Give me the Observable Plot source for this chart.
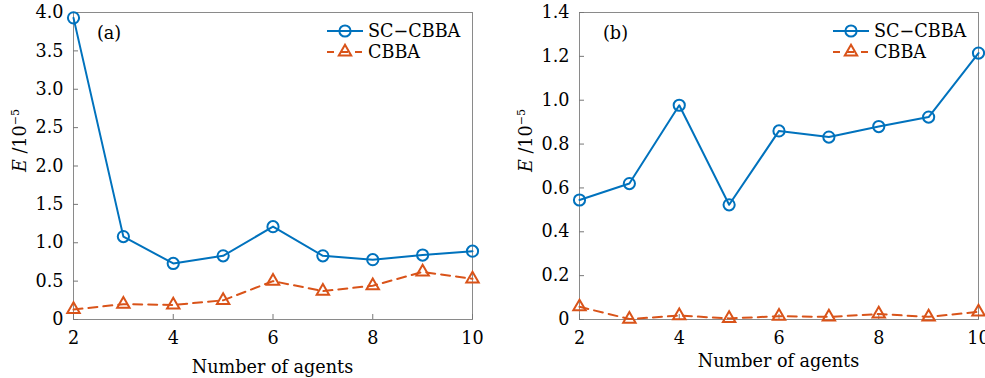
<!DOCTYPE html>
<html>
<head>
<meta charset="utf-8">
<script src="https://cdn.jsdelivr.net/npm/d3@7"></script>
<script src="https://cdn.jsdelivr.net/npm/@observablehq/plot@0.6"></script>
<style>
  html, body { margin: 0; padding: 0; background: #fff; }
  #wrap { position: relative; width: 985px; height: 378px; overflow: hidden; }
  #wrap svg { position: absolute; top: 0; overflow: visible; }
</style>
</head>
<body>
<div id="wrap"></div>
<script>
const agents = [2, 3, 4, 5, 6, 7, 8, 9, 10];
const seriesNames = ["SC\u2212CBBA", "CBBA"];
// Panel (a)
const aScCbba = [3.93, 1.08, 0.73, 0.83, 1.21, 0.83, 0.78, 0.84, 0.89];
const aCbba   = [0.13, 0.20, 0.19, 0.25, 0.50, 0.37, 0.44, 0.62, 0.53];
// Panel (b)
const bScCbba = [0.545, 0.62, 0.977, 0.523, 0.86, 0.832, 0.88, 0.923, 1.215];
const bCbba   = [0.058, 0.002, 0.018, 0.005, 0.015, 0.012, 0.025, 0.012, 0.035];
const xTicks = [2, 4, 6, 8, 10];
const aYTicks = [0, 0.5, 1.0, 1.5, 2.0, 2.5, 3.0, 3.5, 4.0];
const bYTicks = [0, 0.2, 0.4, 0.6, 0.8, 1.0, 1.2, 1.4];
const panelLabels = ["(a)", "(b)"];
const xLabel = "Number of agents";

const BLUE = "#0072BD", RED = "#D95319";
const FONT = "DejaVu Serif, Liberation Serif, serif";
const FS = 17.6;

function makePanel({sc, cb, yTicks, yMax, width, marginLeft, marginRight, left, label, xLabelY}) {
  const marginTop = 12, marginBottom = 59, height = 378;
  const plotW = width - marginLeft - marginRight;
  const plotH = height - marginTop - marginBottom;
  const scData = agents.map((a, i) => ({x: a, y: sc[i]}));
  const cbData = agents.map((a, i) => ({x: a, y: cb[i]}));
  const fmt = d => d === 0 ? "0" : d.toFixed(1);
  const chart = Plot.plot({
    width, height, marginLeft, marginRight, marginTop, marginBottom,
    style: {fontFamily: FONT, fontSize: FS + "px", color: "#000", background: "transparent", overflow: "visible"},
    x: {domain: [2, 10], ticks: xTicks},
    y: {domain: [0, yMax], ticks: yTicks},
    marks: [
      Plot.frame({stroke: "#8a8a8a", strokeWidth: 1}),
      Plot.tickX(xTicks, {x: d => d, insetTop: plotH - 5, stroke: "#777"}),
      Plot.tickY(yTicks, {y: d => d, insetRight: plotW - 5, stroke: "#777"}),
      Plot.axisX(xTicks, {tickSize: 0, tickPadding: 12, tickFormat: d => String(d), label: null, fontSize: FS}),
      Plot.axisY(yTicks, {tickSize: 0, tickPadding: 10, tickFormat: fmt, label: null, fontSize: FS}),
      Plot.line(cbData, {x: "x", y: "y", stroke: RED, strokeWidth: 2, strokeDasharray: "9,6"}),
      Plot.dot(cbData, {x: "x", y: "y", symbol: "triangle", r: 4.6, stroke: RED, strokeWidth: 2, fill: "none"}),
      Plot.line(scData, {x: "x", y: "y", stroke: BLUE, strokeWidth: 2}),
      Plot.dot(scData, {x: "x", y: "y", symbol: "circle", r: 5.6, stroke: BLUE, strokeWidth: 2, fill: "none"})
    ]
  });
  chart.style.left = left + "px";
  const svg = d3.select(chart);
  // panel label
  svg.append("text").attr("x", marginLeft + 24).attr("y", 39).attr("text-anchor", "start")
    .attr("font-family", FONT).attr("font-size", FS).attr("fill", "#000").text(label);
  // x label
  svg.append("text").attr("x", marginLeft + plotW / 2).attr("y", xLabelY)
    .attr("text-anchor", "middle").attr("font-family", FONT).attr("font-size", FS).attr("fill", "#000").text(xLabel);
  // y label
  const yl = svg.append("text")
    .attr("transform", `translate(${marginLeft - 47},172) rotate(-90)`).attr("text-anchor", "start")
    .attr("font-family", FONT).attr("font-size", FS).attr("fill", "#000");
  yl.append("tspan").attr("font-style", "italic").text("E");
  yl.append("tspan").text(" /10");
  yl.append("tspan").attr("font-size", 11).attr("dy", -7).text("\u22125");
  // legend
  const lx0 = width - marginRight - 145, lx1 = lx0 + 36, tx = lx1 + 5;
  const g = svg.append("g");
  const rows = [
    {name: seriesNames[0], color: BLUE, dash: null, sym: d3.symbolCircle, r: 5.6, y: 31},
    {name: seriesNames[1], color: RED, dash: "7,7", sym: d3.symbolTriangle, r: 4.6, y: 52}
  ];
  for (const r of rows) {
    g.append("line").attr("x1", lx0).attr("x2", lx1).attr("y1", r.y).attr("y2", r.y)
      .attr("stroke", r.color).attr("stroke-width", 2).attr("stroke-dasharray", r.dash);
    g.append("path").attr("d", d3.symbol(r.sym, r.r * r.r * Math.PI)())
      .attr("transform", `translate(${(lx0 + lx1) / 2},${r.y})`)
      .attr("fill", "none").attr("stroke", r.color).attr("stroke-width", 2);
    g.append("text").attr("x", tx).attr("y", r.y + 6).attr("text-anchor", "start").attr("font-family", FONT)
      .attr("font-size", FS).attr("fill", "#000").text(r.name);
  }
  return chart;
}

const wrap = document.getElementById("wrap");
wrap.appendChild(makePanel({sc: aScCbba, cb: aCbba, yTicks: aYTicks, yMax: 4, width: 492, marginLeft: 73, marginRight: 20, left: 0, label: panelLabels[0], xLabelY: 373}));
wrap.appendChild(makePanel({sc: bScCbba, cb: bCbba, yTicks: bYTicks, yMax: 1.4, width: 493, marginLeft: 87, marginRight: 7, left: 492, label: panelLabels[1], xLabelY: 367}));
</script>
</body>
</html>
